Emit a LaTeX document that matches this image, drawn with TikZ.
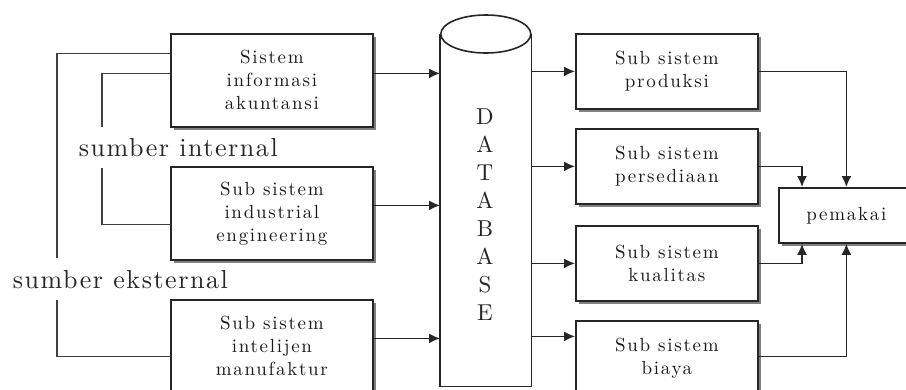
\documentclass[tikz,border=0pt]{standalone}
\usepackage{fontspec}
\usetikzlibrary{arrows.meta,shadows}
\newfontfamily\boxff{lmroman10-regular}[Extension=.otf, LetterSpace=9]
\newfontfamily\lblff{lmroman10-regular}[Extension=.otf, LetterSpace=6]
\newfontfamily\dbff{lmroman10-regular}[Extension=.otf]
\newcommand\boxfont{\boxff\fontsize{19}{23}\selectfont}
\newcommand\dbfont{\dbff\fontsize{23}{28}\selectfont}
\newcommand\lblfont{\lblff\fontsize{26}{30}\selectfont}
\begin{document}
\begin{tikzpicture}[x=1pt,y=-1pt,
  line width=1.6pt,
  box/.style={draw=black!85, fill=white, line width=1.8pt, anchor=north west,
    inner sep=0pt, align=center, font=\boxfont, text=black!90,
    drop shadow={shadow xshift=3pt, shadow yshift=-3pt, fill=black!50, opacity=1}},
  leftbox/.style={box, minimum width=202pt, minimum height=93pt},
  rightbox/.style={box, minimum width=182pt, minimum height=75pt},
  lbl/.style={anchor=west, inner sep=0pt, font=\lblfont, text=black!85},
  arr/.style={draw=black!85, -{Latex[length=11pt,width=10pt]}},
  wire/.style={draw=black!75}]
\useasboundingbox[fill=white] (0,0) rectangle (906,389);

% source subsystems
\node[leftbox] (ai) at (170,33) {Sistem\\informasi\\akuntansi};
\node[leftbox] (ie) at (170,166) {Sub sistem\\industrial\\engineering};
\node[leftbox] (im) at (170,299) {Sub sistem\\intelijen\\manufaktur};

% source labels
\node[lbl] (int) at (78,148) {sumber internal};
\node[lbl] (ext) at (12,280) {sumber eksternal};

% database cylinder
\node[anchor=north west, inner sep=0pt, minimum width=90pt, minimum height=351pt] (db) at (440,34) {};
\draw[draw=black!85] (db.north west) -- (db.south west) -- (db.south east) -- (db.north east);
\draw[draw=black!85, fill=white] (db.north) ellipse [x radius=45pt, y radius=19pt];
\node[font=\dbfont, align=center, inner sep=0pt, text=black!85] (dbtext) at (485,215) {D\\A\\T\\A\\B\\A\\S\\E};

% output subsystems
\node[rightbox] (p1) at (575,33) {Sub sistem\\produksi};
\node[rightbox] (p2) at (575,128) {Sub sistem\\persediaan};
\node[rightbox] (p3) at (575,225) {Sub sistem\\kualitas};
\node[rightbox] (p4) at (575,320) {Sub sistem\\biaya};

% user
\node[box, minimum width=135pt, minimum height=55pt] (pm) at (778,187) {pemakai};

% gaps around the source labels
\coordinate (eT) at (57,258);
\coordinate (eB) at (57,300);
\coordinate (iT) at (102,127);
\coordinate (iB) at (102,168);

% source wiring
\draw[wire] ([yshift=27pt]ai.west) -| (eT);
\draw[wire] (eB) |- ([yshift=-10pt]im.west);
\draw[wire] ([yshift=7pt]ai.west) -| (iT);
\draw[wire] (iB) |- ([yshift=-11pt]ie.west);

% into the database
\draw[arr] ([yshift=7pt]ai.east) -- ([yshift=7pt]ai.east -| db.west);
\draw[arr] ([yshift=8pt]ie.east) -- ([yshift=8pt]ie.east -| db.west);
\draw[arr] ([yshift=8pt]im.east) -- ([yshift=8pt]im.east -| db.west);

% out of the database
\draw[arr] (db.east |- p1.west) -- (p1.west);
\draw[arr] (db.east |- p2.west) -- (p2.west);
\draw[arr] (db.east |- p3.west) -- (p3.west);
\draw[arr] ([yshift=22pt]db.east |- p4.west) -- ([yshift=22pt]p4.west);

% to the user
\draw[arr] (p1.east) -| (pm.north);
\draw[arr] (p2.east) -| ([xshift=24pt]pm.north west);
\draw[arr] (p3.east) -| ([xshift=24pt]pm.south west);
\draw[arr] ([yshift=2pt]p4.east) -| (pm.south);
\end{tikzpicture}
\end{document}
